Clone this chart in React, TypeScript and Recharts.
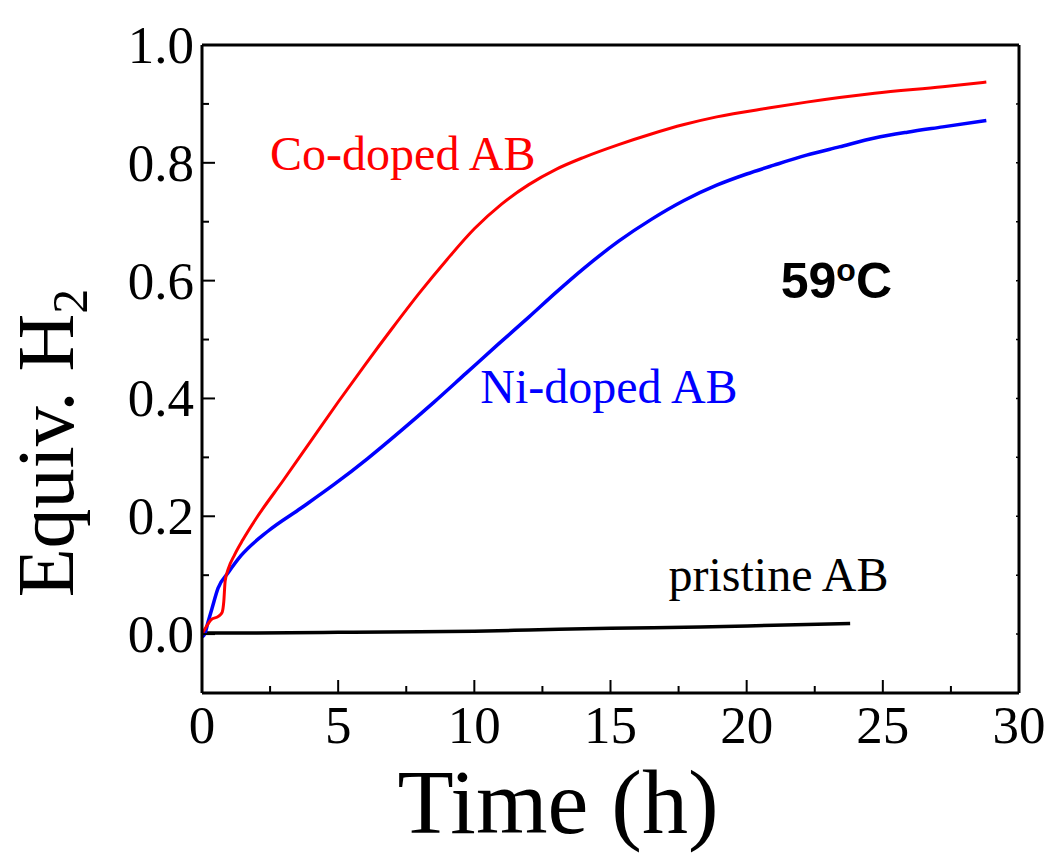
import { LineChart, Line, XAxis, YAxis, ReferenceDot } from "recharts";

// Co-doped AB (red)
const coTime = [0, 0.15, 0.35, 0.6, 0.74, 0.8, 0.85, 0.96, 1.2, 1.5, 2.0, 3.0, 4.0, 5.0, 6.0, 7.0, 8.0, 9.0, 10.0, 11.0, 12.0, 13.0, 14.0, 15.3, 16.5, 17.7, 18.9, 20.8, 22.2, 24.7, 27.2, 28.8];
const coEquiv = [0, 0.012, 0.025, 0.03, 0.037, 0.055, 0.09, 0.11, 0.135, 0.16, 0.197, 0.262, 0.328, 0.394, 0.458, 0.52, 0.58, 0.636, 0.688, 0.73, 0.763, 0.789, 0.809, 0.831, 0.849, 0.865, 0.878, 0.893, 0.903, 0.918, 0.929, 0.937];

// Ni-doped AB (blue)
const niTime = [0, 0.1, 0.22, 0.37, 0.59, 0.96, 1.43, 2.43, 3.64, 4.85, 6.08, 7.3, 8.5, 9.7, 10.9, 12.0, 13.0, 14.0, 15.3, 16.5, 17.7, 18.9, 20.0, 21.0, 22.2, 23.4, 24.7, 25.9, 27.2, 28.8];
const niEquiv = [-0.005, 0.0, 0.02, 0.044, 0.078, 0.104, 0.133, 0.175, 0.214, 0.254, 0.298, 0.345, 0.393, 0.443, 0.493, 0.538, 0.58, 0.62, 0.667, 0.704, 0.736, 0.762, 0.781, 0.796, 0.813, 0.827, 0.842, 0.852, 0.861, 0.872];

// pristine AB (black)
const pristineTime = [0, 2, 5, 8, 10, 12, 15, 18.3, 21, 23.8];
const pristineEquiv = [0.002, 0.002, 0.003, 0.004, 0.005, 0.007, 0.01, 0.012, 0.015, 0.018];

const xTicks = [0, 2.5, 5, 7.5, 10, 12.5, 15, 17.5, 20, 22.5, 25, 27.5, 30];
const yTicks = [-0.1, 0, 0.1, 0.2, 0.3, 0.4, 0.5, 0.6, 0.7, 0.8, 0.9, 1.0];

const notes = [
  { text: "Co-doped AB", t: 2.5, v: 0.787, color: "#ff0000" },
  { text: "Ni-doped AB", t: 10.22, v: 0.393, color: "#0000ff" },
  { text: "pristine AB", t: 17.13, v: 0.073, color: "#000000" },
];

const serif = '"Liberation Serif", "Times New Roman", serif';

const rows = (t: number[], v: number[]) => t.map((time, i) => ({ time, equiv: v[i] }));

function BottomTick(props: any) {
  const { x, y, payload } = props;
  const major = payload.value % 5 === 0;
  return (
    <g>
      <line x1={x} x2={x} y1={y} y2={y - (major ? 13 : 7)} stroke="#000" strokeWidth={2} />
      {major && (
        <text x={x} y={y + 50} textAnchor="middle" fontSize={53} fontFamily={serif} fill="#000">
          {payload.value}
        </text>
      )}
    </g>
  );
}

function LeftTick(props: any) {
  const { x, y, payload } = props;
  const major = Math.round(payload.value * 10) % 2 === 0;
  return (
    <g>
      <line x1={x} x2={x + (major ? 13 : 7)} y1={y} y2={y} stroke="#000" strokeWidth={2} />
      {major && payload.value >= 0 && (
        <text x={x - 8} y={y + 18} textAnchor="end" fontSize={53} fontFamily={serif} fill="#000">
          {payload.value.toFixed(1)}
        </text>
      )}
    </g>
  );
}

function TopTick(props: any) {
  const { x, y } = props;
  return <line x1={x} x2={x} y1={y} y2={y + 3} stroke="#000" strokeWidth={1.5} />;
}

function RightTick(props: any) {
  const { x, y } = props;
  return <line x1={x} x2={x - 3} y1={y} y2={y} stroke="#000" strokeWidth={1.5} />;
}

export default function App() {
  return (
    <div>
      <style>{`body{margin:0;background:#fff}`}</style>
      <LineChart width={1046} height={855} margin={{ top: 44, right: 26, bottom: 0, left: 0 }}>
        <XAxis
          xAxisId="bottom"
          dataKey="time"
          type="number"
          domain={[0, 30]}
          ticks={xTicks}
          interval={0}
          height={162}
          tickSize={0}
          tickMargin={0}
          tickLine={false}
          tick={<BottomTick />}
          axisLine={{ stroke: "#000", strokeWidth: 3 }}
          allowDataOverflow
          label={{
            content: () => (
              <text x={558} y={833} textAnchor="middle" fontSize={92} fontFamily={serif} fill="#000">
                Time (h)
              </text>
            ),
          }}
        />
        <XAxis
          xAxisId="top"
          orientation="top"
          type="number"
          domain={[0, 30]}
          ticks={xTicks}
          interval={0}
          height={1}
          tickSize={0}
          tickMargin={0}
          tickLine={false}
          tick={<TopTick />}
          axisLine={{ stroke: "#000", strokeWidth: 3 }}
          allowDataOverflow
        />
        <YAxis
          yAxisId="left"
          type="number"
          domain={[-0.1, 1.0]}
          ticks={yTicks}
          interval={0}
          width={202}
          tickSize={0}
          tickMargin={0}
          tickLine={false}
          tick={<LeftTick />}
          axisLine={{ stroke: "#000", strokeWidth: 3 }}
          allowDataOverflow
          label={{
            content: () => (
              <text
                x={73}
                y={443}
                transform="rotate(-90, 73, 443)"
                textAnchor="middle"
                fontSize={80}
                fontFamily={serif}
                fill="#000"
              >
                Equiv. H
                <tspan dy={14} fontSize={50}>2</tspan>
              </text>
            ),
          }}
        />
        <YAxis
          yAxisId="right"
          orientation="right"
          type="number"
          domain={[-0.1, 1.0]}
          ticks={yTicks}
          interval={0}
          width={1}
          tickSize={0}
          tickMargin={0}
          tickLine={false}
          tick={<RightTick />}
          axisLine={{ stroke: "#000", strokeWidth: 3 }}
          allowDataOverflow
        />
        <Line
          xAxisId="bottom"
          yAxisId="left"
          data={rows(pristineTime, pristineEquiv)}
          dataKey="equiv"
          type="monotone"
          stroke="#000000"
          strokeWidth={3.5}
          dot={false}
          isAnimationActive={false}
        />
        <Line
          xAxisId="bottom"
          yAxisId="left"
          data={rows(niTime, niEquiv)}
          dataKey="equiv"
          type="monotone"
          stroke="#0000ff"
          strokeWidth={3.5}
          dot={false}
          isAnimationActive={false}
        />
        <Line
          xAxisId="bottom"
          yAxisId="left"
          data={rows(coTime, coEquiv)}
          dataKey="equiv"
          type="monotone"
          stroke="#ff0000"
          strokeWidth={3}
          dot={false}
          isAnimationActive={false}
        />
        {notes.map((n) => (
          <ReferenceDot
            key={n.text}
            xAxisId="bottom"
            yAxisId="left"
            x={n.t}
            y={n.v}
            r={0}
            shape={(p: any) => (
              <text x={p.cx} y={p.cy} fontSize={48} fontFamily={serif} fill={n.color}>
                {n.text}
              </text>
            )}
          />
        ))}
        <ReferenceDot
          xAxisId="bottom"
          yAxisId="left"
          x={21.25}
          y={0.57}
          r={0}
          shape={(p: any) => (
            <text
              x={p.cx}
              y={p.cy}
              fontSize={50}
              fontWeight="bold"
              fontFamily='"Liberation Sans", Arial, sans-serif'
              fill="#000"
            >
              59
              <tspan dy={-17} fontSize={32}>o</tspan>
              <tspan dy={17}>C</tspan>
            </text>
          )}
        />
      </LineChart>
    </div>
  );
}
